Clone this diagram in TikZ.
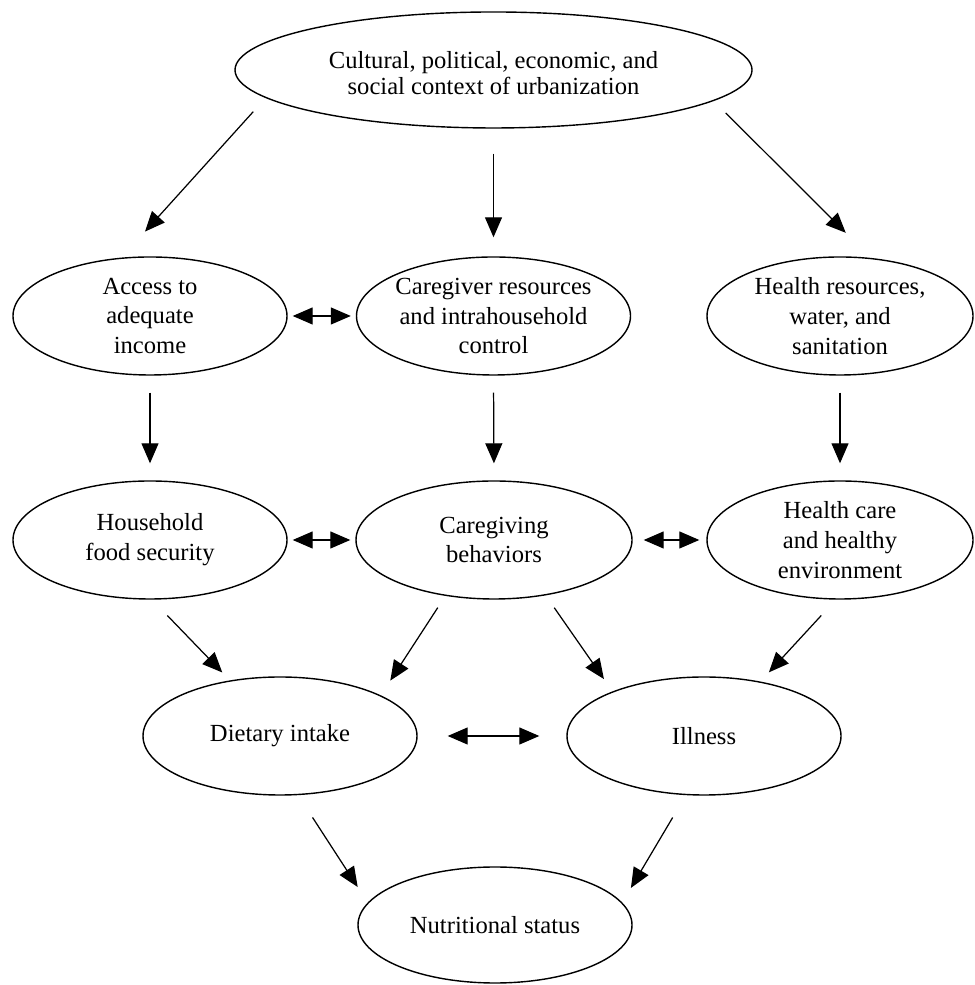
\documentclass[tikz,border=0pt]{standalone}
\usepackage{fontspec}
\setmainfont{Liberation Serif}
\usetikzlibrary{arrows.meta,shapes.geometric}
\begin{document}
\begin{tikzpicture}[
        oval/.style={ellipse,draw,line width=0.8pt,inner sep=0pt,
            minimum width=5.48cm,minimum height=2.36cm},
        txt/.style={align=center,font=\fontsize{14}{17}\selectfont},
        arr/.style={-{Triangle[length=4mm,width=3.4mm]},line width=0.7pt},
        dbl/.style={{Triangle[length=4mm,width=3.4mm]}-{Triangle[length=4mm,width=3.4mm]},
            line width=0.7pt}]
\useasboundingbox (0,0) rectangle (19.48,19.7);

\node[oval,minimum width=10.34cm,minimum height=2.32cm,
    label={[txt,font=\fontsize{14}{15}\selectfont,yshift=-0.06cm]center:{Cultural, political, economic, and\\social context of urbanization}}] (ctx) at (9.87,18.3) {};

\node[oval,label={[txt]center:Access to\\adequate\\income}] (income) at (3.0,13.38) {};
\node[oval,label={[txt]center:Caregiver resources\\and intrahousehold\\control}] (caregiver) at (9.87,13.38) {};
\node[oval,minimum width=5.32cm,label={[txt]center:{Health resources,\\water, and\\sanitation}}] (healthres) at (16.8,13.38) {};

\node[oval,label={[txt]center:Household\\food security}] (foodsec) at (3.0,8.9) {};
\node[oval,minimum width=5.52cm,label={[txt]center:Caregiving\\behaviors}] (caregiving) at (9.88,8.9) {};
\node[oval,minimum width=5.32cm,label={[txt]center:Health care\\and healthy\\environment}] (healthcare) at (16.8,8.9) {};

\node[oval,label={[txt]center:Dietary intake}] (dietary) at (5.6,4.98) {};
\node[oval,label={[txt]center:Illness}] (illness) at (14.08,4.98) {};

\node[oval,minimum height=2.32cm,label={[txt]center:Nutritional status}] (nutrition) at (9.9,1.2) {};

% context
\draw[arr,shorten <=0.37cm,shorten >=0.7cm] (ctx.187.5) -- (income.116.6);
\draw[arr,shorten <=0.5cm,shorten >=0.38cm] (ctx.south) -- (caregiver.north);
\draw[arr,shorten <=0.34cm,shorten >=0.71cm] (ctx.352.3) -- (healthres.62.6);

\draw[dbl,shorten <=0.1cm,shorten >=0.1cm] (income.east) -- (caregiver.west);
\foreach \a/\b in {income/foodsec,caregiver/caregiving,healthres/healthcare}
    \draw[arr,shorten <=0.34cm,shorten >=0.34cm] (\a.south) -- (\b.north);

\draw[dbl,shorten <=0.1cm,shorten >=0.1cm] (foodsec.east) -- (caregiving.west);
\draw[dbl,shorten <=0.22cm,shorten >=0.14cm] (caregiving.east) -- (healthcare.west);

% intake and illness
\draw[arr,shorten <=0.44cm,shorten >=0.22cm] (foodsec.272.9) -- (dietary.132.6);
\draw[arr,shorten <=0.28cm,shorten >=0.35cm] (caregiving.229) -- (dietary.22.9);
\draw[arr,shorten <=0.3cm,shorten >=0.3cm] (caregiving.313.4) -- (illness.154.8);
\draw[arr,shorten <=0.43cm,shorten >=0.25cm] (healthcare.266.6) -- (illness.44.1);
\draw[dbl,shorten <=0.6cm,shorten >=0.54cm] (dietary.east) -- (illness.west);

\draw[arr,shorten <=0.53cm,shorten >=0.37cm] (dietary.287.8) -- (nutrition.170.4);
\draw[arr,shorten <=0.52cm,shorten >=0.34cm] (illness.253.4) -- (nutrition.10.1);
\end{tikzpicture}
\end{document}
